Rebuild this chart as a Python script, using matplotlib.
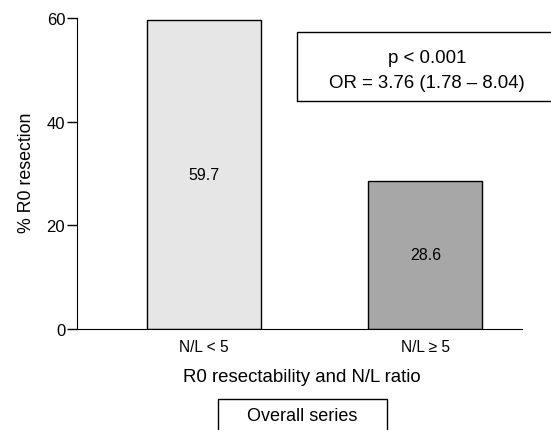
import matplotlib.pyplot as plt
from matplotlib.patches import Rectangle

plt.rcParams['font.family'] = ['Liberation Sans', 'DejaVu Sans']

categories = ['N/L < 5', 'N/L \u2265 5']
r0_pct = [59.7, 28.6]
bar_colors = ['#e6e6e6', '#a6a7a6']
stats_lines = ['p < 0.001', 'OR = 3.76 (1.78 \u2013 8.04)']

W, H = 551, 431
fig = plt.figure(figsize=(W / 100, H / 100), dpi=100)
ax = fig.add_axes([77/W, 1 - 330/H, (522 - 77)/W, (330 - 19)/H])

x = list(range(len(categories)))
ax.bar(x, r0_pct, width=0.515, color=bar_colors, edgecolor='black', linewidth=1)
for xi, v in zip(x, r0_pct):
    ax.text(xi, v / 2, f'{v}', ha='center', va='center', fontsize=11.5)

ax.set_xlim(-0.573, 1.436)
ax.set_ylim(0, 60)
ax.set_yticks([0, 20, 40, 60])
ax.set_xticks(x)
ax.set_xticklabels(categories, fontsize=11.2)
ax.tick_params(axis='x', length=0, pad=7)
ax.tick_params(axis='y', length=7, labelsize=12, width=1, pad=1.5)
ax.spines['top'].set_visible(False)
ax.spines['right'].set_visible(False)
ax.set_xlabel('R0 resectability and N/L ratio', fontsize=13.4)
ax.xaxis.set_label_coords(302/W, 1 - 369/H, transform=fig.transFigure)
ax.set_ylabel('% R0 resection', fontsize=12.8)
ax.yaxis.set_label_coords(35/W, 1 - 173/H, transform=fig.transFigure)

# stats box
fig.patches.append(Rectangle((297/W, 1 - 102/H), (560 - 297)/W, (102 - 33)/H,
                             transform=fig.transFigure, facecolor='white',
                             edgecolor='black', linewidth=1))
fig.text(427/W, 1 - 58.5/H, stats_lines[0], ha='center', va='center', fontsize=13.4)
fig.text(427/W, 1 - 83/H, stats_lines[1], ha='center', va='center', fontsize=13.4)

# "Overall series" box at the bottom
fig.patches.append(Rectangle((218/W, -0.05), (387 - 218)/W, 0.05 + 31/H,
                             transform=fig.transFigure, facecolor='white',
                             edgecolor='black', linewidth=1))
fig.text(302/W, 1 - 417/H, 'Overall series', ha='center', va='center', fontsize=13)

fig.savefig('out.png', dpi=100)
